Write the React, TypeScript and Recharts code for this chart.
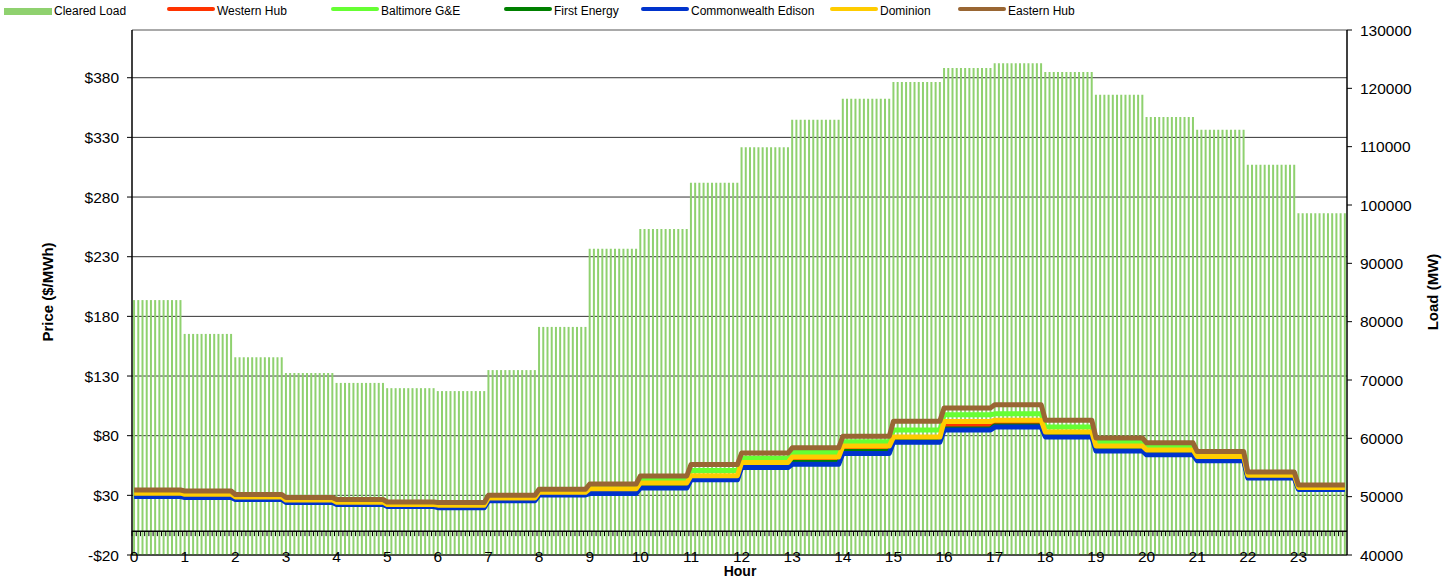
import React from "react";
import {
  ComposedChart,
  Bar,
  Line,
  XAxis,
  YAxis,
  CartesianGrid,
  ReferenceLine,
} from "recharts";

// hourly values, each hour is shown as 12 five-minute slots
const HOURS = [0, 1, 2, 3, 4, 5, 6, 7, 8, 9, 10, 11, 12, 13, 14, 15, 16, 17, 18, 19, 20, 21, 22, 23];
const SLOTS_PER_HOUR = 12;

const clearedLoad = [
  83700, 77900, 73900, 71200, 69500, 68600, 68100, 71700, 79100, 92500, 95900, 103800,
  109900, 114600, 118200, 121100, 123500, 124300, 122800, 118900, 115100, 112900, 106900, 98600,
];
const westernHub = [
  30.5, 29.6, 27.6, 25.0, 23.3, 21.4, 20.8, 26.6, 31.5, 33.5, 38.3, 44.8,
  55.3, 59.0, 68.2, 76.5, 88.3, 89.8, 81.0, 69.2, 66.0, 60.7, 45.6, 35.7,
];
const baltimore = [
  32.6, 31.6, 29.2, 26.8, 25.0, 23.0, 22.5, 28.4, 33.4, 37.0, 43.0, 50.8,
  61.0, 65.9, 75.0, 84.7, 97.5, 98.3, 87.2, 74.8, 70.7, 63.5, 46.5, 37.0,
];
const firstEnergy = [
  30.5, 29.7, 28.0, 25.5, 23.8, 22.1, 21.2, 27.0, 31.8, 33.0, 37.6, 44.5,
  54.8, 57.6, 66.7, 76.1, 85.7, 88.2, 80.5, 68.7, 65.5, 60.5, 45.8, 36.3,
];
const comEd = [
  29.0, 28.2, 26.5, 24.0, 22.3, 20.6, 19.7, 25.5, 30.3, 31.5, 36.1, 43.0,
  53.3, 56.0, 65.1, 74.6, 84.7, 87.2, 79.0, 67.2, 64.0, 59.0, 44.5, 34.9,
];
const dominion = [
  31.8, 30.9, 28.6, 26.0, 24.3, 22.3, 21.8, 27.7, 32.6, 35.5, 40.3, 46.5,
  57.5, 62.1, 71.3, 78.8, 91.8, 93.0, 83.0, 71.4, 68.0, 62.5, 46.8, 36.6,
];
const easternHub = [
  34.5, 33.6, 30.7, 28.2, 26.5, 24.4, 24.0, 30.0, 35.1, 39.5, 46.2, 55.8,
  65.5, 69.8, 79.5, 92.2, 103.3, 106.0, 93.0, 78.1, 74.0, 66.7, 49.5, 38.7,
];

const priceTicks = [-20, 30, 80, 130, 180, 230, 280, 330, 380];
const loadTicks = [40000, 50000, 60000, 70000, 80000, 90000, 100000, 110000, 120000, 130000];

const LOAD_COLOR = "#8fd16f";
const SERIES = [
  { key: "westernHub", name: "Western Hub", color: "#ff3300", values: westernHub },
  { key: "baltimore", name: "Baltimore G&E", color: "#66ff33", values: baltimore },
  { key: "firstEnergy", name: "First Energy", color: "#008000", values: firstEnergy },
  { key: "comEd", name: "Commonwealth Edison", color: "#0033cc", values: comEd },
  { key: "dominion", name: "Dominion", color: "#ffcc00", values: dominion },
  { key: "easternHub", name: "Eastern Hub", color: "#996633", values: easternHub },
];

const data = HOURS.flatMap((h) =>
  Array.from({ length: SLOTS_PER_HOUR }, (_, s) => {
    const row: Record<string, number> = {
      slot: h * SLOTS_PER_HOUR + s,
      load: clearedLoad[h],
      zero: 0,
    };
    SERIES.forEach((sr) => (row[sr.key] = sr.values[h]));
    return row;
  })
);

const FONT = '"Liberation Sans", Arial, sans-serif';
const W = 1451;
const H = 579;
const LEFT_W = 132;
const RIGHT_W = 104;
const HALF_BAND = (W - LEFT_W - RIGHT_W) / data.length / 2;

const HourTick = (props: any) => {
  const { x, y, payload } = props;
  return (
    <text x={x} y={y} dy={7} textAnchor="middle" fontSize={15.5} fill="#000" fontFamily={FONT}>
      {Math.floor(payload.value / SLOTS_PER_HOUR)}
    </text>
  );
};

// small tick marks hanging under the $0 axis line, one per slot
const AxisTick = (props: any) => {
  const { cx, cy } = props;
  if (cx == null || cy == null) return null;
  return (
    <line
      key={`tk-${props.index}`}
      x1={cx - HALF_BAND}
      x2={cx - HALF_BAND}
      y1={cy}
      y2={cy + 5}
      stroke="#000"
      strokeWidth={1}
    />
  );
};

// legend entry left edges as laid out in the original
const LEGEND_X = [4, 167, 331, 504, 641, 830, 958];

function LegendRow() {
  const items = [
    { name: "Cleared Load", color: LOAD_COLOR, bar: true },
    ...SERIES.map((s) => ({ name: s.name, color: s.color, bar: false })),
  ];
  return (
    <div style={{ position: "absolute", left: 0, top: 0, fontFamily: FONT, fontSize: 12, color: "#000" }}>
      {items.map((it, i) => (
        <div
          key={it.name}
          style={{
            position: "absolute",
            left: LEGEND_X[i],
            top: 3,
            display: "flex",
            alignItems: "center",
            height: 16,
            whiteSpace: "nowrap",
          }}
        >
          <span
            style={{
              display: "inline-block",
              width: 48,
              height: it.bar ? 7 : 4.5,
              marginRight: 2,
              marginTop: it.bar ? 0 : -4,
              background: it.color,
              borderRadius: it.bar ? 0 : 3,
            }}
          />
          <span>{it.name}</span>
        </div>
      ))}
    </div>
  );
}

export default function App() {
  const tickStyle = { fontSize: 15.5, fill: "#000", fontFamily: FONT };
  return (
    <div style={{ position: "absolute", left: 0, top: 0, width: W, height: H, background: "#fff" }}>
      <LegendRow />
      <ComposedChart
        width={W}
        height={H}
        data={data}
        margin={{ top: 30, right: 0, bottom: 0, left: 0 }}
        barCategoryGap="25%"
      >
        <CartesianGrid yAxisId="left" vertical={false} stroke="#333" horizontalValues={priceTicks} />
        <XAxis
          dataKey="slot"
          interval={SLOTS_PER_HOUR - 1}
          height={24}
          tickLine={false}
          tickSize={0}
          tickMargin={0}
          axisLine={{ stroke: "#000" }}
          tick={<HourTick />}
        />
        <YAxis
          yAxisId="left"
          width={LEFT_W}
          domain={[-20, 420]}
          ticks={priceTicks}
          tickFormatter={(v) => (v < 0 ? `-$${-v}` : `$${v}`)}
          tick={tickStyle}
          tickSize={5}
          tickMargin={8}
          axisLine={{ stroke: "#000", strokeWidth: 1.5 }}
          tickLine={{ stroke: "#000" }}
          allowDataOverflow
        />
        <YAxis
          yAxisId="right"
          orientation="right"
          width={RIGHT_W}
          domain={[40000, 130000]}
          ticks={loadTicks}
          tick={tickStyle}
          tickSize={5}
          tickMargin={8}
          axisLine={{ stroke: "#000", strokeWidth: 1.5 }}
          tickLine={{ stroke: "#000" }}
          allowDataOverflow
        />
        <ReferenceLine yAxisId="left" y={420} stroke="#555" />
        <Bar yAxisId="right" dataKey="load" name="Cleared Load" fill={LOAD_COLOR} isAnimationActive={false} />
        <ReferenceLine yAxisId="left" y={0} stroke="#000" strokeWidth={1.5} />
        <Line
          yAxisId="left"
          dataKey="zero"
          stroke="none"
          dot={<AxisTick />}
          activeDot={false}
          legendType="none"
          isAnimationActive={false}
        />
        {SERIES.map((s) => (
          <Line
            key={s.key}
            yAxisId="left"
            type="linear"
            dataKey={s.key}
            name={s.name}
            stroke={s.color}
            strokeWidth={5}
            strokeLinejoin="round"
            dot={false}
            activeDot={false}
            isAnimationActive={false}
          />
        ))}
      </ComposedChart>
      <div
        style={{
          position: "absolute",
          left: 47,
          top: 292,
          transform: "translate(-50%, -50%) rotate(-90deg)",
          fontFamily: FONT,
          fontWeight: "bold",
          fontSize: 15,
          whiteSpace: "nowrap",
        }}
      >
        Price ($/MWh)
      </div>
      <div
        style={{
          position: "absolute",
          left: 1432,
          top: 292,
          transform: "translate(-50%, -50%) rotate(-90deg)",
          fontFamily: FONT,
          fontWeight: "bold",
          fontSize: 15,
          whiteSpace: "nowrap",
        }}
      >
        Load (MW)
      </div>
      <div
        style={{
          position: "absolute",
          left: 740,
          top: 571,
          transform: "translate(-50%, -50%)",
          fontFamily: FONT,
          fontWeight: "bold",
          fontSize: 14,
          whiteSpace: "nowrap",
        }}
      >
        Hour
      </div>
    </div>
  );
}
